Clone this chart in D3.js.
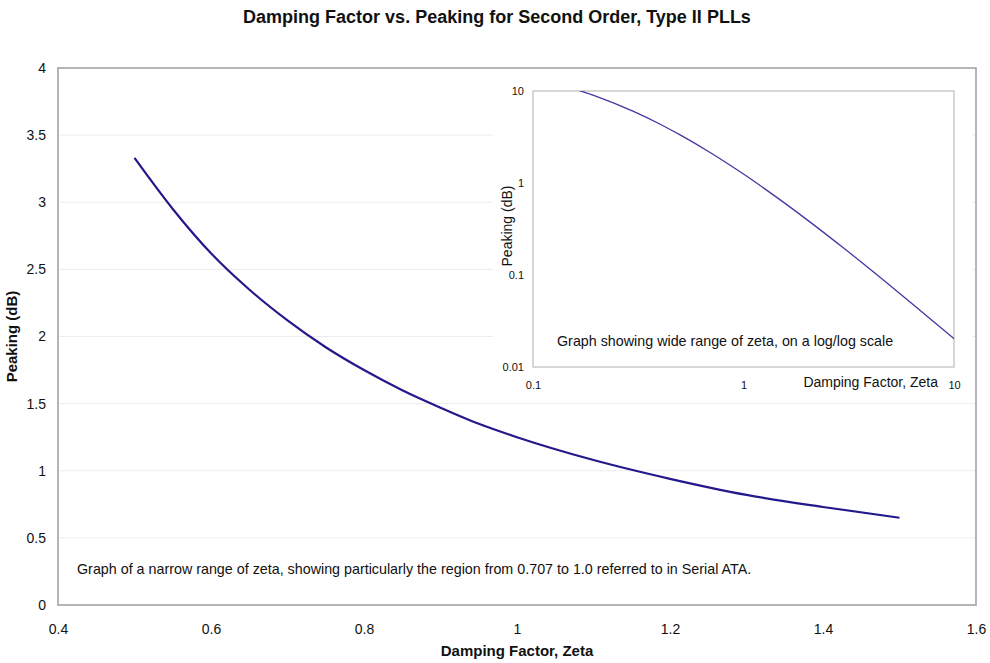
<!DOCTYPE html>
<html>
<head>
<meta charset="utf-8">
<script src="https://cdn.jsdelivr.net/npm/d3@7"></script>
<style>
  body { margin: 0; background: #fff; }
  text { font-family: "Liberation Sans", Arial, sans-serif; fill: #111; }
</style>
</head>
<body>
<div id="chart"></div>
<script>
// narrow range, linear axes
var zeta = [0.5, 0.55, 0.6, 0.65, 0.7, 0.75, 0.8, 0.85, 0.9, 0.95, 1.0, 1.1, 1.2, 1.3, 1.4, 1.5];
var peaking = [3.33, 2.95, 2.62, 2.35, 2.12, 1.92, 1.75, 1.60, 1.47, 1.35, 1.25, 1.08, 0.94, 0.82, 0.73, 0.65];
var xTicks = [0.4, 0.6, 0.8, 1, 1.2, 1.4, 1.6];
var yTicks = [0, 0.5, 1, 1.5, 2, 2.5, 3, 3.5, 4];

// wide range, log/log inset
var zetaWide = [0.15, 0.2, 0.3, 0.4, 0.5, 0.7, 1, 1.5, 2, 3, 5, 7, 10];
var peakingWide = [10.9, 8.74, 6.0, 4.38, 3.33, 2.12, 1.25, 0.651, 0.400, 0.195, 0.0761, 0.0402, 0.0203];
var insetXTicks = [0.1, 1, 10];
var insetYTicks = [0.01, 0.1, 1, 10];

var width = 990, height = 663;

var svg = d3.select("#chart").append("svg")
  .attr("width", width)
  .attr("height", height);

// main chart
var x = d3.scaleLinear().domain([0.4, 1.6]).range([58, 976]);
var y = d3.scaleLinear().domain([0, 4]).range([605, 68]);

svg.append("text")
  .attr("x", 497).attr("y", 23)
  .attr("text-anchor", "middle")
  .style("font-size", "18px").style("font-weight", "bold")
  .text("Damping Factor vs. Peaking for Second Order, Type II PLLs");

// grid lines
svg.append("g").selectAll("line")
  .data(yTicks.slice(1, -1))
  .enter().append("line")
  .attr("x1", x(0.4)).attr("x2", x(1.6))
  .attr("y1", function(d) { return y(d); })
  .attr("y2", function(d) { return y(d); })
  .attr("stroke", "#ececec").attr("stroke-width", 1);

// frame
svg.append("rect")
  .attr("x", x(0.4)).attr("y", y(4))
  .attr("width", x(1.6) - x(0.4)).attr("height", y(0) - y(4))
  .attr("fill", "none").attr("stroke", "#a3a3a3").attr("stroke-width", 1.6);

// axes
var yAxis = svg.append("g")
  .attr("transform", "translate(" + x(0.4) + ",0)")
  .call(d3.axisLeft(y).tickValues(yTicks).tickSize(0).tickPadding(12).tickFormat(d3.format("")));
var xAxis = svg.append("g")
  .attr("transform", "translate(0," + y(0) + ")")
  .call(d3.axisBottom(x).tickValues(xTicks).tickSize(0).tickPadding(19).tickFormat(d3.format("")));
[xAxis, yAxis].forEach(function(a) {
  a.select(".domain").remove();
  a.selectAll("text").style("font-size", "14px").style("font-family", "'Liberation Sans', Arial, sans-serif").attr("fill", "#111");
});

svg.append("text")
  .attr("x", x(1)).attr("y", 656)
  .attr("text-anchor", "middle")
  .style("font-size", "15px").style("font-weight", "bold")
  .text("Damping Factor, Zeta");

svg.append("text")
  .attr("transform", "translate(17," + y(2) + ") rotate(-90)")
  .attr("text-anchor", "middle")
  .style("font-size", "15px").style("font-weight", "bold")
  .text("Peaking (dB)");

var line = d3.line()
  .x(function(d, i) { return x(zeta[i]); })
  .y(function(d) { return y(d); })
  .curve(d3.curveMonotoneX);

svg.append("path")
  .datum(peaking)
  .attr("d", line)
  .attr("fill", "none")
  .attr("stroke", "#23198c")
  .attr("stroke-width", 2.2);

svg.append("text")
  .attr("x", 77).attr("y", 574)
  .style("font-size", "14.3px")
  .text("Graph of a narrow range of zeta, showing particularly the region from 0.707 to 1.0 referred to in Serial ATA.");

// inset chart
var ix = d3.scaleLog().domain([0.1, 10]).range([533, 954]);
var iy = d3.scaleLog().domain([0.01, 10]).range([367, 91]);

svg.append("rect")
  .attr("x", 493).attr("y", 76)
  .attr("width", 479).attr("height", 322)
  .attr("fill", "#fff");

svg.append("defs").append("clipPath").attr("id", "insetClip")
  .append("rect")
  .attr("x", 533).attr("y", 91)
  .attr("width", 954 - 533).attr("height", 367 - 91);

svg.append("rect")
  .attr("x", 533).attr("y", 91)
  .attr("width", 954 - 533).attr("height", 367 - 91)
  .attr("fill", "none").attr("stroke", "#cdcdcd").attr("stroke-width", 1.6);

var iyAxis = svg.append("g")
  .attr("transform", "translate(533,0)")
  .call(d3.axisLeft(iy).tickValues(insetYTicks).tickSize(0).tickPadding(9).tickFormat(d3.format("")));
var ixAxis = svg.append("g")
  .attr("transform", "translate(0,367)")
  .call(d3.axisBottom(ix).tickValues(insetXTicks).tickSize(0).tickPadding(14).tickFormat(d3.format("")));
[ixAxis, iyAxis].forEach(function(a) {
  a.select(".domain").remove();
  a.selectAll("text").style("font-size", "11px").style("font-family", "'Liberation Sans', Arial, sans-serif").attr("fill", "#111");
});

svg.append("text")
  .attr("x", 938).attr("y", 387)
  .attr("text-anchor", "end")
  .style("font-size", "14px")
  .text("Damping Factor, Zeta");

svg.append("text")
  .attr("transform", "translate(512,226) rotate(-90)")
  .attr("text-anchor", "middle")
  .style("font-size", "14px")
  .text("Peaking (dB)");

var insetLine = d3.line()
  .x(function(d, i) { return ix(zetaWide[i]); })
  .y(function(d) { return iy(d); })
  .curve(d3.curveMonotoneX);

svg.append("path")
  .datum(peakingWide)
  .attr("d", insetLine)
  .attr("clip-path", "url(#insetClip)")
  .attr("fill", "none")
  .attr("stroke", "#4238a4")
  .attr("stroke-width", 1.3);

svg.append("text")
  .attr("x", 557).attr("y", 346)
  .style("font-size", "14.3px")
  .text("Graph showing wide range of zeta, on a log/log scale");
</script>
</body>
</html>
